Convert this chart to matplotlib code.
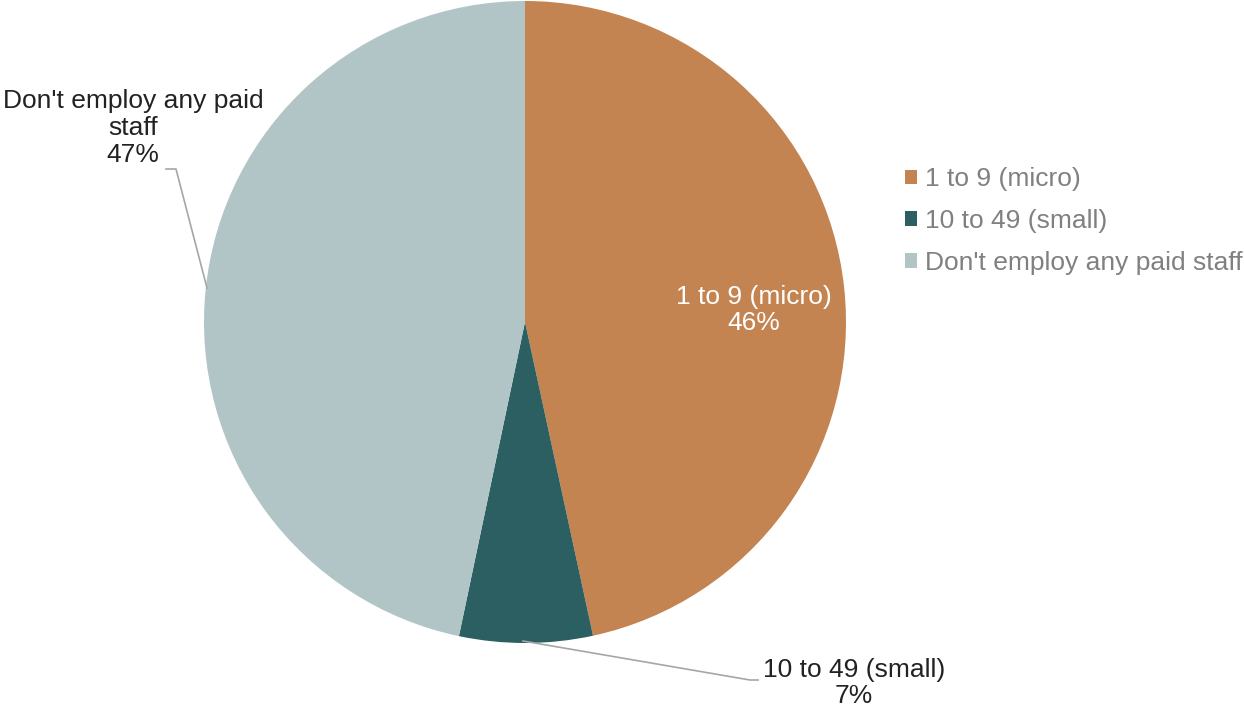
import matplotlib.pyplot as plt

plt.rcParams['font.family'] = ['Liberation Sans', 'DejaVu Sans']

categories = ["1 to 9 (micro)", "10 to 49 (small)", "Don't employ any paid staff"]
shares = [46.6, 6.7, 46.7]
pct_labels = ["46%", "7%", "47%"]
colors = ["#C38451", "#2C5F62", "#B2C5C6"]

W, H = 1244, 710
fig = plt.figure(figsize=(W / 100, H / 100), dpi=100)
ax = fig.add_axes([0, 0, 1, 1])

cx, cy, r = 525, H - 322, 321
wedges, _ = ax.pie(shares, colors=colors, startangle=90, counterclock=False,
                   center=(cx, cy), radius=r, frame=True)
ax.set_xlim(0, W)
ax.set_ylim(0, H)
ax.axis('off')

fs = 19
ls = 1.15
# inside label
ax.text(754, H - 310, f"{categories[0]}\n{pct_labels[0]}", color="white", fontsize=fs,
        ha="center", va="center", linespacing=ls)

# small label with leader
ax.plot([523, 750, 758], [H - 641, H - 680, H - 680], color="#A6A6A6", lw=1.2)
ax.text(854, H - 683, f"{categories[1]}\n{pct_labels[1]}", color="#222222", fontsize=fs,
        ha="center", va="center", linespacing=ls)

# don't employ label with leader
ax.plot([207, 176, 166], [H - 288, H - 169, H - 169], color="#A6A6A6", lw=1.2)
ax.text(133, H - 128, "Don't employ any paid\nstaff\n" + pct_labels[2], color="#222222",
        fontsize=fs, ha="center", va="center", linespacing=ls)

leg = ax.legend(wedges, categories, loc="upper left", bbox_to_anchor=(905 / W, 1 - 167 / H),
                frameon=False, fontsize=fs, labelcolor="#808080", handlelength=0.45,
                handleheight=0.45, handletextpad=0.3, labelspacing=0.68, borderpad=0,
                borderaxespad=0)

fig.savefig("out.png", dpi=100)
